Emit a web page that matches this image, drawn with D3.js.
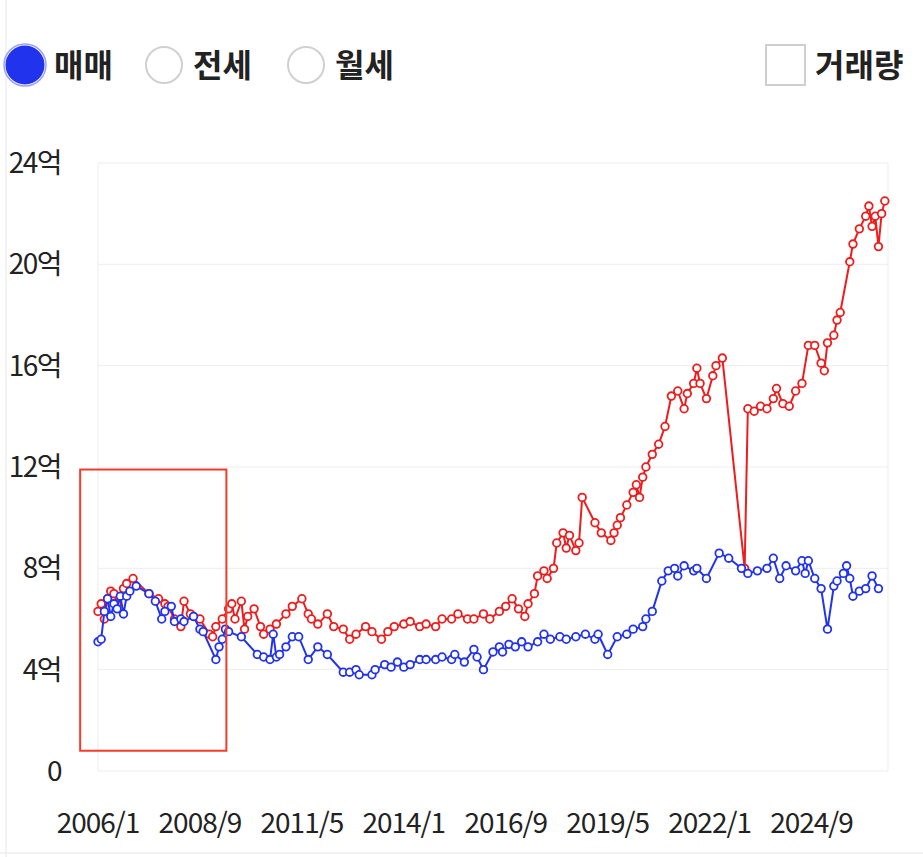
<!DOCTYPE html>
<html><head><meta charset="utf-8">
<script src="https://cdn.jsdelivr.net/npm/d3@7"></script>
<style>body{margin:0;background:#fff;font-family:"Noto Sans CJK KR","Noto Sans",sans-serif}</style>
</head><body><svg width="923" height="857"></svg>
<script>
// months since 2006/1, value in 억
var redM = [0,1,2,3,4,5,6,8,9,11,16,19,21,22,24,26,27,29,30,32,35,36,37,39,41,42,43,45,46,47,49,51,52,54,56,59,61,64,66,67,69,72,74,77,79,81,84,86,89,91,93,96,98,101,103,106,108,111,113,116,118,121,123,126,128,130,132,134,135,137,138,140,141,143,144,146,147,148,150,151,152,156,158,161,162,163,164,166,168,169,170,171,172,174,176,178,180,182,184,185,187,188,189,191,193,194,196,203,204,206,208,210,212,213,215,217,219,221,223,225,227,228,229,231,232,233,236,237,239,241,242,243,244,245,246,247];
var redV = [6.3,6.6,6.0,6.8,7.1,7.0,6.6,7.2,7.4,7.6,7.0,6.8,6.6,6.5,6.0,5.7,6.7,6.2,6.1,6.0,5.4,5.3,5.7,6.0,6.4,6.6,6.0,6.7,5.6,6.1,6.4,5.7,5.4,5.6,5.8,6.2,6.5,6.8,6.2,6.0,5.8,6.2,5.7,5.6,5.2,5.4,5.7,5.5,5.2,5.5,5.7,5.8,5.9,5.7,5.8,5.7,6.0,6.0,6.2,6.0,6.0,6.2,6.0,6.3,6.5,6.8,6.4,6.1,6.6,7.0,7.7,7.9,7.6,8.0,9.0,9.4,8.8,9.3,8.7,9.0,10.8,9.8,9.4,9.1,9.4,9.7,10.0,10.5,11.0,11.3,10.8,11.6,12.0,12.5,12.9,13.6,14.8,15.0,14.3,14.9,15.3,15.9,15.3,14.7,15.6,16.0,16.3,8.0,14.3,14.2,14.4,14.3,14.7,15.1,14.5,14.4,15.0,15.3,16.8,16.8,16.1,15.8,16.9,17.2,17.8,18.1,20.1,20.8,21.4,21.9,22.3,21.5,21.9,20.7,22.0,22.5];
var blueM = [0,1,2,3,4,5,6,7,8,9,10,12,16,18,20,21,23,24,26,27,30,32,33,37,38,39,40,41,45,50,52,54,55,56,57,59,61,63,66,69,72,77,79,81,82,86,87,90,92,94,96,98,101,103,106,108,111,112,115,118,119,121,124,126,127,129,131,133,135,138,140,142,145,147,150,153,156,157,160,163,166,168,171,172,174,177,179,181,182,184,187,188,191,195,198,202,204,207,210,212,214,216,219,221,222,223,225,227,229,231,232,234,235,236,237,239,241,243,245];
var blueV = [5.1,5.2,6.3,6.8,6.1,6.6,6.4,6.9,6.2,6.9,7.1,7.3,7.0,6.7,6.0,6.3,6.5,5.9,6.0,5.9,6.1,5.6,5.5,4.4,4.9,5.2,5.6,5.5,5.3,4.6,4.5,4.4,5.4,4.5,4.6,4.9,5.3,5.3,4.4,4.9,4.6,3.9,3.9,4.0,3.8,3.8,4.0,4.2,4.1,4.3,4.1,4.2,4.4,4.4,4.4,4.5,4.4,4.6,4.3,4.8,4.5,4.0,4.7,4.9,4.7,5.0,4.9,5.1,4.9,5.1,5.4,5.2,5.3,5.2,5.3,5.4,5.2,5.4,4.6,5.3,5.4,5.6,5.7,6.0,6.3,7.5,7.9,8.0,7.7,8.1,7.9,8.0,7.6,8.6,8.4,8.0,7.8,7.9,8.0,8.4,7.6,8.1,7.9,8.3,7.8,8.3,7.6,7.2,5.6,7.3,7.5,7.8,8.1,7.6,6.9,7.1,7.2,7.7,7.2];
var xTicks = [0,32,64,96,128,160,192,224];
var xLabels = ["2006/1","2008/9","2011/5","2014/1","2016/9","2019/5","2022/1","2024/9"];
var yTicks = [0,4,8,12,16,20,24];
var tabs = ["매매","전세","월세"];

const svg = d3.select("svg");
const x = d3.scaleLinear().domain([0,248]).range([98,888]);
const y = d3.scaleLinear().domain([0,24]).range([771,163]);

// page edges
svg.append("line").attr("x1",6).attr("x2",6).attr("y1",0).attr("y2",857).attr("stroke","#e6e6e6");
svg.append("line").attr("x1",0).attr("x2",923).attr("y1",853).attr("y2",853).attr("stroke","#e6e6e6");

// header
const tg = svg.selectAll("g.tab").data(tabs).enter().append("g").attr("class","tab")
  .attr("transform",(d,i)=>`translate(${[25,164,306][i]},65)`);
tg.append("circle").attr("r",18).attr("fill",(d,i)=>i==0?"#2233ee":"#fff")
  .attr("stroke",(d,i)=>i==0?"#2233ee":"#d0d0d0").attr("stroke-width",(d,i)=>i==0?3:2);
tg.filter((d,i)=>i==0).append("circle").attr("r",21).attr("fill","none").attr("stroke","#9aa3f5").attr("stroke-width",1.5);
tg.append("text").attr("x",29).attr("y",12).attr("font-size",32).attr("font-weight",700).attr("fill","#222").text(d=>d);
svg.append("rect").attr("x",766).attr("y",45).attr("width",39).attr("height",40).attr("fill","#fff").attr("stroke","#cfcfcf").attr("stroke-width",2);
svg.append("text").attr("x",815).attr("y",77).attr("font-size",32).attr("font-weight",700).attr("fill","#222").text("거래량");

// grid & frame
svg.append("g").selectAll("line").data(yTicks).enter().append("line")
  .attr("x1",98).attr("x2",888).attr("y1",d=>y(d)).attr("y2",d=>y(d)).attr("stroke","#ededed");
svg.append("line").attr("x1",98).attr("x2",98).attr("y1",163).attr("y2",771).attr("stroke","#ededed");
svg.append("line").attr("x1",888).attr("x2",888).attr("y1",163).attr("y2",771).attr("stroke","#ededed");

svg.append("g").selectAll("text").data(yTicks).enter().append("text")
  .attr("x",61).attr("y",d=>y(d)+10).attr("text-anchor","end").attr("font-size",28).attr("fill","#222")
  .attr("letter-spacing",-1.5).text(d=>d==0?"0":d+"억");
svg.append("g").selectAll("text").data(xTicks).enter().append("text")
  .attr("x",d=>x(d)).attr("y",833).attr("text-anchor","middle").attr("font-size",28).attr("fill","#222")
  .attr("letter-spacing",-1).text((d,i)=>xLabels[i]);

function series(ms, vs, col){
  const pts = ms.map((m,i)=>[m,vs[i]]);
  svg.append("path").datum(pts).attr("fill","none").attr("stroke",col).attr("stroke-width",2)
    .attr("d",d3.line().x(d=>x(d[0])).y(d=>y(d[1])));
  svg.append("g").selectAll("circle").data(pts).enter().append("circle")
    .attr("cx",d=>x(d[0])).attr("cy",d=>y(d[1])).attr("r",3.8)
    .attr("fill","#fff").attr("stroke",col).attr("stroke-width",1.8);
}
series(redM, redV, "#ee1c1c");
series(blueM, blueV, "#2233ee");

// annotation box
svg.append("rect").attr("x",x(-5.6)).attr("y",y(11.9)).attr("width",x(40.3)-x(-5.6)).attr("height",y(0.8)-y(11.9))
  .attr("fill","none").attr("stroke","#f03c2a").attr("stroke-width",2);
</script></body></html>
